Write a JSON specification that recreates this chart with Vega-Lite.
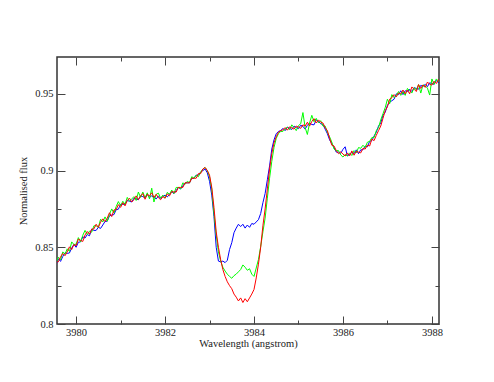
{
"$schema":"https://vega.github.io/schema/vega-lite/v6.json",
"width":382,"height":267,
"autosize":{"type":"none"},
"padding":{"left":57,"top":57,"right":55,"bottom":58},
"background":"white",
"config":{"font":"Liberation Serif","view":{"stroke":"#333333","strokeWidth":1.5},"axis":{"labelFont":"Liberation Serif","titleFont":"Liberation Serif","labelFontSize":10.5,"titleFontSize":10.5,"titleFontWeight":"normal","labelColor":"#222222","titleColor":"#222222","tickColor":"#444444","tickWidth":1,"domain":false,"grid":false}},
"datasets":{"spec":[
{"x":3979.55,"y":0.8385,"s":"b"},{"x":3979.6,"y":0.8425,"s":"b"},{"x":3979.65,"y":0.8408,"s":"b"},{"x":3979.7,"y":0.844,"s":"b"},{"x":3979.75,"y":0.8465,"s":"b"},{"x":3979.8,"y":0.846,"s":"b"},{"x":3979.85,"y":0.8463,"s":"b"},{"x":3979.9,"y":0.8495,"s":"b"},{"x":3979.95,"y":0.8518,"s":"b"},{"x":3980,"y":0.85,"s":"b"},
{"x":3980.05,"y":0.8533,"s":"b"},{"x":3980.1,"y":0.8535,"s":"b"},{"x":3980.15,"y":0.8568,"s":"b"},{"x":3980.2,"y":0.856,"s":"b"},{"x":3980.25,"y":0.8583,"s":"b"},{"x":3980.3,"y":0.8575,"s":"b"},{"x":3980.35,"y":0.8618,"s":"b"},{"x":3980.4,"y":0.861,"s":"b"},{"x":3980.45,"y":0.861,"s":"b"},{"x":3980.5,"y":0.863,"s":"b"},
{"x":3980.55,"y":0.8623,"s":"b"},{"x":3980.6,"y":0.8645,"s":"b"},{"x":3980.65,"y":0.8668,"s":"b"},{"x":3980.7,"y":0.867,"s":"b"},{"x":3980.75,"y":0.8705,"s":"b"},{"x":3980.8,"y":0.871,"s":"b"},{"x":3980.85,"y":0.8713,"s":"b"},{"x":3980.9,"y":0.8745,"s":"b"},{"x":3980.95,"y":0.8748,"s":"b"},{"x":3981,"y":0.878,"s":"b"},
{"x":3981.05,"y":0.878,"s":"b"},{"x":3981.1,"y":0.878,"s":"b"},{"x":3981.15,"y":0.8805,"s":"b"},{"x":3981.2,"y":0.88,"s":"b"},{"x":3981.25,"y":0.8795,"s":"b"},{"x":3981.3,"y":0.882,"s":"b"},{"x":3981.35,"y":0.8815,"s":"b"},{"x":3981.4,"y":0.881,"s":"b"},{"x":3981.45,"y":0.8835,"s":"b"},{"x":3981.5,"y":0.883,"s":"b"},
{"x":3981.55,"y":0.8823,"s":"b"},{"x":3981.6,"y":0.8845,"s":"b"},{"x":3981.65,"y":0.8825,"s":"b"},{"x":3981.7,"y":0.8835,"s":"b"},{"x":3981.75,"y":0.8825,"s":"b"},{"x":3981.8,"y":0.8815,"s":"b"},{"x":3981.85,"y":0.8833,"s":"b"},{"x":3981.9,"y":0.882,"s":"b"},{"x":3981.95,"y":0.883,"s":"b"},{"x":3982,"y":0.884,"s":"b"},
{"x":3982.05,"y":0.8828,"s":"b"},{"x":3982.1,"y":0.8845,"s":"b"},{"x":3982.15,"y":0.8863,"s":"b"},{"x":3982.2,"y":0.885,"s":"b"},{"x":3982.25,"y":0.887,"s":"b"},{"x":3982.3,"y":0.889,"s":"b"},{"x":3982.35,"y":0.888,"s":"b"},{"x":3982.4,"y":0.89,"s":"b"},{"x":3982.45,"y":0.892,"s":"b"},{"x":3982.5,"y":0.892,"s":"b"},
{"x":3982.55,"y":0.892,"s":"b"},{"x":3982.6,"y":0.895,"s":"b"},{"x":3982.65,"y":0.895,"s":"b"},{"x":3982.7,"y":0.897,"s":"b"},{"x":3982.75,"y":0.897,"s":"b"},{"x":3982.8,"y":0.899,"s":"b"},{"x":3982.85,"y":0.9,"s":"b"},{"x":3982.9,"y":0.901,"s":"b"},{"x":3982.95,"y":0.8985,"s":"b"},
{"x":3983,"y":0.893,"s":"b"},{"x":3983.05,"y":0.884,"s":"b"},{"x":3983.1,"y":0.87,"s":"b"},{"x":3983.15,"y":0.85,"s":"b"},{"x":3983.2,"y":0.841,"s":"b"},{"x":3983.25,"y":0.8405,"s":"b"},{"x":3983.3,"y":0.841,"s":"b"},{"x":3983.35,"y":0.84,"s":"b"},{"x":3983.4,"y":0.8415,"s":"b"},{"x":3983.45,"y":0.8485,"s":"b"},
{"x":3983.5,"y":0.853,"s":"b"},{"x":3983.55,"y":0.8595,"s":"b"},{"x":3983.6,"y":0.8625,"s":"b"},{"x":3983.65,"y":0.865,"s":"b"},{"x":3983.7,"y":0.8635,"s":"b"},{"x":3983.75,"y":0.865,"s":"b"},{"x":3983.8,"y":0.8625,"s":"b"},{"x":3983.85,"y":0.8645,"s":"b"},{"x":3983.9,"y":0.863,"s":"b"},{"x":3983.95,"y":0.8655,"s":"b"},
{"x":3984,"y":0.865,"s":"b"},{"x":3984.05,"y":0.8665,"s":"b"},{"x":3984.1,"y":0.868,"s":"b"},{"x":3984.15,"y":0.872,"s":"b"},{"x":3984.2,"y":0.879,"s":"b"},{"x":3984.25,"y":0.885,"s":"b"},{"x":3984.3,"y":0.894,"s":"b"},{"x":3984.35,"y":0.903,"s":"b"},{"x":3984.4,"y":0.914,"s":"b"},{"x":3984.45,"y":0.92,"s":"b"},
{"x":3984.5,"y":0.924,"s":"b"},{"x":3984.55,"y":0.9255,"s":"b"},{"x":3984.6,"y":0.926,"s":"b"},
{"x":3984.65,"y":0.9275,"s":"b"},{"x":3984.7,"y":0.926,"s":"b"},{"x":3984.75,"y":0.9283,"s":"b"},{"x":3984.8,"y":0.9275,"s":"b"},{"x":3984.85,"y":0.9268,"s":"b"},{"x":3984.9,"y":0.929,"s":"b"},{"x":3984.95,"y":0.928,"s":"b"},{"x":3985,"y":0.9273,"s":"b"},{"x":3985.05,"y":0.9295,"s":"b"},{"x":3985.1,"y":0.9288,"s":"b"},
{"x":3985.15,"y":0.927,"s":"b"},{"x":3985.2,"y":0.9295,"s":"b"},{"x":3985.25,"y":0.931,"s":"b"},{"x":3985.3,"y":0.93,"s":"b"},{"x":3985.35,"y":0.9298,"s":"b"},{"x":3985.4,"y":0.933,"s":"b"},{"x":3985.45,"y":0.932,"s":"b"},{"x":3985.5,"y":0.9305,"s":"b"},{"x":3985.55,"y":0.93,"s":"b"},{"x":3985.6,"y":0.927,"s":"b"},
{"x":3985.65,"y":0.924,"s":"b"},{"x":3985.7,"y":0.92,"s":"b"},{"x":3985.75,"y":0.9175,"s":"b"},{"x":3985.8,"y":0.915,"s":"b"},{"x":3985.85,"y":0.912,"s":"b"},{"x":3985.9,"y":0.912,"s":"b"},{"x":3985.95,"y":0.9112,"s":"b"},{"x":3986,"y":0.9138,"s":"b"},{"x":3986.05,"y":0.9155,"s":"b"},{"x":3986.1,"y":0.9095,"s":"b"},
{"x":3986.15,"y":0.9105,"s":"b"},{"x":3986.2,"y":0.9118,"s":"b"},{"x":3986.25,"y":0.911,"s":"b"},{"x":3986.3,"y":0.9135,"s":"b"},{"x":3986.35,"y":0.911,"s":"b"},{"x":3986.4,"y":0.9135,"s":"b"},{"x":3986.45,"y":0.9135,"s":"b"},{"x":3986.5,"y":0.916,"s":"b"},{"x":3986.55,"y":0.9155,"s":"b"},{"x":3986.6,"y":0.919,"s":"b"},
{"x":3986.65,"y":0.9195,"s":"b"},{"x":3986.7,"y":0.9225,"s":"b"},{"x":3986.75,"y":0.925,"s":"b"},{"x":3986.8,"y":0.929,"s":"b"},{"x":3986.85,"y":0.931,"s":"b"},{"x":3986.9,"y":0.936,"s":"b"},{"x":3986.95,"y":0.938,"s":"b"},{"x":3987,"y":0.9425,"s":"b"},{"x":3987.05,"y":0.9445,"s":"b"},{"x":3987.1,"y":0.9455,"s":"b"},
{"x":3987.15,"y":0.9465,"s":"b"},{"x":3987.2,"y":0.95,"s":"b"},{"x":3987.25,"y":0.9495,"s":"b"},{"x":3987.3,"y":0.952,"s":"b"},{"x":3987.35,"y":0.9495,"s":"b"},{"x":3987.4,"y":0.952,"s":"b"},{"x":3987.45,"y":0.9515,"s":"b"},{"x":3987.5,"y":0.953,"s":"b"},{"x":3987.55,"y":0.9515,"s":"b"},{"x":3987.6,"y":0.954,"s":"b"},
{"x":3987.65,"y":0.9535,"s":"b"},{"x":3987.7,"y":0.953,"s":"b"},{"x":3987.75,"y":0.9555,"s":"b"},{"x":3987.8,"y":0.9548,"s":"b"},{"x":3987.85,"y":0.9562,"s":"b"},{"x":3987.9,"y":0.9547,"s":"b"},{"x":3987.95,"y":0.9572,"s":"b"},{"x":3988,"y":0.9567,"s":"b"},{"x":3988.05,"y":0.9562,"s":"b"},{"x":3988.1,"y":0.9587,"s":"b"},
{"x":3988.15,"y":0.9572,"s":"b"},{"x":3988.2,"y":0.9587,"s":"b"},
{"x":3979.55,"y":0.8395,"s":"g"},{"x":3979.6,"y":0.8435,"s":"g"},{"x":3979.65,"y":0.8418,"s":"g"},{"x":3979.7,"y":0.847,"s":"g"},{"x":3979.75,"y":0.8455,"s":"g"},{"x":3979.8,"y":0.849,"s":"g"},{"x":3979.85,"y":0.8473,"s":"g"},{"x":3979.9,"y":0.8535,"s":"g"},{"x":3979.95,"y":0.8518,"s":"g"},{"x":3980,"y":0.852,"s":"g"},
{"x":3980.05,"y":0.8563,"s":"g"},{"x":3980.1,"y":0.8535,"s":"g"},{"x":3980.15,"y":0.8578,"s":"g"},{"x":3980.2,"y":0.861,"s":"g"},{"x":3980.25,"y":0.8583,"s":"g"},{"x":3980.3,"y":0.8605,"s":"g"},{"x":3980.35,"y":0.8598,"s":"g"},{"x":3980.4,"y":0.864,"s":"g"},{"x":3980.45,"y":0.864,"s":"g"},{"x":3980.5,"y":0.863,"s":"g"},
{"x":3980.55,"y":0.8683,"s":"g"},{"x":3980.6,"y":0.8665,"s":"g"},{"x":3980.65,"y":0.8698,"s":"g"},{"x":3980.7,"y":0.867,"s":"g"},{"x":3980.75,"y":0.8715,"s":"g"},{"x":3980.8,"y":0.875,"s":"g"},{"x":3980.85,"y":0.8723,"s":"g"},{"x":3980.9,"y":0.8765,"s":"g"},{"x":3980.95,"y":0.8798,"s":"g"},{"x":3981,"y":0.877,"s":"g"},
{"x":3981.05,"y":0.88,"s":"g"},{"x":3981.1,"y":0.878,"s":"g"},{"x":3981.15,"y":0.8825,"s":"g"},{"x":3981.2,"y":0.88,"s":"g"},{"x":3981.25,"y":0.8815,"s":"g"},{"x":3981.3,"y":0.883,"s":"g"},{"x":3981.35,"y":0.8805,"s":"g"},{"x":3981.4,"y":0.886,"s":"g"},{"x":3981.45,"y":0.8825,"s":"g"},{"x":3981.5,"y":0.886,"s":"g"},
{"x":3981.55,"y":0.8823,"s":"g"},{"x":3981.6,"y":0.8855,"s":"g"},{"x":3981.65,"y":0.8815,"s":"g"},{"x":3981.7,"y":0.8885,"s":"g"},{"x":3981.75,"y":0.8795,"s":"g"},{"x":3981.8,"y":0.8845,"s":"g"},{"x":3981.85,"y":0.8853,"s":"g"},{"x":3981.9,"y":0.882,"s":"g"},{"x":3981.95,"y":0.884,"s":"g"},{"x":3982,"y":0.882,"s":"g"},
{"x":3982.05,"y":0.8858,"s":"g"},{"x":3982.1,"y":0.8845,"s":"g"},{"x":3982.15,"y":0.8873,"s":"g"},{"x":3982.2,"y":0.885,"s":"g"},{"x":3982.25,"y":0.889,"s":"g"},{"x":3982.3,"y":0.889,"s":"g"},{"x":3982.35,"y":0.888,"s":"g"},{"x":3982.4,"y":0.892,"s":"g"},{"x":3982.45,"y":0.891,"s":"g"},{"x":3982.5,"y":0.893,"s":"g"},
{"x":3982.55,"y":0.892,"s":"g"},{"x":3982.6,"y":0.896,"s":"g"},{"x":3982.65,"y":0.895,"s":"g"},{"x":3982.7,"y":0.897,"s":"g"},{"x":3982.75,"y":0.896,"s":"g"},{"x":3982.8,"y":0.899,"s":"g"},{"x":3982.85,"y":0.901,"s":"g"},{"x":3982.9,"y":0.902,"s":"g"},{"x":3982.95,"y":0.9,"s":"g"},
{"x":3983,"y":0.896,"s":"g"},{"x":3983.05,"y":0.888,"s":"g"},{"x":3983.1,"y":0.872,"s":"g"},{"x":3983.15,"y":0.858,"s":"g"},{"x":3983.2,"y":0.847,"s":"g"},{"x":3983.25,"y":0.841,"s":"g"},{"x":3983.3,"y":0.837,"s":"g"},{"x":3983.35,"y":0.8345,"s":"g"},{"x":3983.4,"y":0.8325,"s":"g"},{"x":3983.45,"y":0.831,"s":"g"},
{"x":3983.5,"y":0.8298,"s":"g"},{"x":3983.55,"y":0.8315,"s":"g"},{"x":3983.6,"y":0.8325,"s":"g"},{"x":3983.65,"y":0.834,"s":"g"},{"x":3983.7,"y":0.8355,"s":"g"},{"x":3983.75,"y":0.8385,"s":"g"},{"x":3983.8,"y":0.837,"s":"g"},{"x":3983.85,"y":0.835,"s":"g"},{"x":3983.9,"y":0.836,"s":"g"},{"x":3983.95,"y":0.8325,"s":"g"},
{"x":3984,"y":0.831,"s":"g"},{"x":3984.05,"y":0.8365,"s":"g"},{"x":3984.1,"y":0.842,"s":"g"},{"x":3984.15,"y":0.8505,"s":"g"},{"x":3984.2,"y":0.86,"s":"g"},{"x":3984.25,"y":0.869,"s":"g"},{"x":3984.3,"y":0.882,"s":"g"},{"x":3984.35,"y":0.895,"s":"g"},{"x":3984.4,"y":0.906,"s":"g"},{"x":3984.45,"y":0.915,"s":"g"},
{"x":3984.5,"y":0.921,"s":"g"},{"x":3984.55,"y":0.924,"s":"g"},{"x":3984.6,"y":0.9255,"s":"g"},
{"x":3984.65,"y":0.9255,"s":"g"},{"x":3984.7,"y":0.927,"s":"g"},{"x":3984.75,"y":0.9283,"s":"g"},{"x":3984.8,"y":0.9265,"s":"g"},{"x":3984.85,"y":0.9298,"s":"g"},{"x":3984.9,"y":0.928,"s":"g"},{"x":3984.95,"y":0.926,"s":"g"},{"x":3985,"y":0.9293,"s":"g"},{"x":3985.05,"y":0.9305,"s":"g"},{"x":3985.1,"y":0.9378,"s":"g"},
{"x":3985.15,"y":0.928,"s":"g"},{"x":3985.2,"y":0.9235,"s":"g"},{"x":3985.25,"y":0.931,"s":"g"},{"x":3985.3,"y":0.936,"s":"g"},{"x":3985.35,"y":0.9318,"s":"g"},{"x":3985.4,"y":0.934,"s":"g"},{"x":3985.45,"y":0.931,"s":"g"},{"x":3985.5,"y":0.9325,"s":"g"},{"x":3985.55,"y":0.929,"s":"g"},{"x":3985.6,"y":0.929,"s":"g"},
{"x":3985.65,"y":0.925,"s":"g"},{"x":3985.7,"y":0.922,"s":"g"},{"x":3985.75,"y":0.9185,"s":"g"},{"x":3985.8,"y":0.914,"s":"g"},{"x":3985.85,"y":0.913,"s":"g"},{"x":3985.9,"y":0.913,"s":"g"},{"x":3985.95,"y":0.9102,"s":"g"},{"x":3986,"y":0.9088,"s":"g"},{"x":3986.05,"y":0.9105,"s":"g"},{"x":3986.1,"y":0.9095,"s":"g"},
{"x":3986.15,"y":0.9115,"s":"g"},{"x":3986.2,"y":0.9098,"s":"g"},{"x":3986.25,"y":0.913,"s":"g"},{"x":3986.3,"y":0.9115,"s":"g"},{"x":3986.35,"y":0.915,"s":"g"},{"x":3986.4,"y":0.9145,"s":"g"},{"x":3986.45,"y":0.9165,"s":"g"},{"x":3986.5,"y":0.915,"s":"g"},{"x":3986.55,"y":0.9185,"s":"g"},{"x":3986.6,"y":0.919,"s":"g"},
{"x":3986.65,"y":0.9215,"s":"g"},{"x":3986.7,"y":0.9215,"s":"g"},{"x":3986.75,"y":0.926,"s":"g"},{"x":3986.8,"y":0.928,"s":"g"},{"x":3986.85,"y":0.933,"s":"g"},{"x":3986.9,"y":0.937,"s":"g"},{"x":3986.95,"y":0.941,"s":"g"},{"x":3987,"y":0.9465,"s":"g"},{"x":3987.05,"y":0.9435,"s":"g"},{"x":3987.1,"y":0.9495,"s":"g"},
{"x":3987.15,"y":0.9475,"s":"g"},{"x":3987.2,"y":0.949,"s":"g"},{"x":3987.25,"y":0.9515,"s":"g"},{"x":3987.3,"y":0.949,"s":"g"},{"x":3987.35,"y":0.9515,"s":"g"},{"x":3987.4,"y":0.949,"s":"g"},{"x":3987.45,"y":0.9535,"s":"g"},{"x":3987.5,"y":0.952,"s":"g"},{"x":3987.55,"y":0.9505,"s":"g"},{"x":3987.6,"y":0.954,"s":"g"},
{"x":3987.65,"y":0.9525,"s":"g"},{"x":3987.7,"y":0.956,"s":"g"},{"x":3987.75,"y":0.9505,"s":"g"},{"x":3987.8,"y":0.9558,"s":"g"},{"x":3987.85,"y":0.9552,"s":"g"},{"x":3987.9,"y":0.9537,"s":"g"},{"x":3987.95,"y":0.9492,"s":"g"},{"x":3988,"y":0.9597,"s":"g"},{"x":3988.05,"y":0.9562,"s":"g"},{"x":3988.1,"y":0.9597,"s":"g"},
{"x":3988.15,"y":0.9582,"s":"g"},{"x":3988.2,"y":0.9577,"s":"g"},
{"x":3979.55,"y":0.8405,"s":"r"},{"x":3979.6,"y":0.8405,"s":"r"},{"x":3979.65,"y":0.8438,"s":"r"},{"x":3979.7,"y":0.846,"s":"r"},{"x":3979.75,"y":0.8445,"s":"r"},{"x":3979.8,"y":0.847,"s":"r"},{"x":3979.85,"y":0.8503,"s":"r"},{"x":3979.9,"y":0.8485,"s":"r"},{"x":3979.95,"y":0.8518,"s":"r"},{"x":3980,"y":0.851,"s":"r"},
{"x":3980.05,"y":0.8553,"s":"r"},{"x":3980.1,"y":0.8545,"s":"r"},{"x":3980.15,"y":0.8538,"s":"r"},{"x":3980.2,"y":0.858,"s":"r"},{"x":3980.25,"y":0.8603,"s":"r"},{"x":3980.3,"y":0.8585,"s":"r"},{"x":3980.35,"y":0.8618,"s":"r"},{"x":3980.4,"y":0.862,"s":"r"},{"x":3980.45,"y":0.865,"s":"r"},{"x":3980.5,"y":0.863,"s":"r"},
{"x":3980.55,"y":0.8663,"s":"r"},{"x":3980.6,"y":0.8685,"s":"r"},{"x":3980.65,"y":0.8668,"s":"r"},{"x":3980.7,"y":0.869,"s":"r"},{"x":3980.75,"y":0.8725,"s":"r"},{"x":3980.8,"y":0.87,"s":"r"},{"x":3980.85,"y":0.8743,"s":"r"},{"x":3980.9,"y":0.8745,"s":"r"},{"x":3980.95,"y":0.8778,"s":"r"},{"x":3981,"y":0.876,"s":"r"},
{"x":3981.05,"y":0.879,"s":"r"},{"x":3981.1,"y":0.877,"s":"r"},{"x":3981.15,"y":0.8805,"s":"r"},{"x":3981.2,"y":0.882,"s":"r"},{"x":3981.25,"y":0.8795,"s":"r"},{"x":3981.3,"y":0.881,"s":"r"},{"x":3981.35,"y":0.8835,"s":"r"},{"x":3981.4,"y":0.881,"s":"r"},{"x":3981.45,"y":0.8835,"s":"r"},{"x":3981.5,"y":0.885,"s":"r"},
{"x":3981.55,"y":0.8813,"s":"r"},{"x":3981.6,"y":0.8845,"s":"r"},{"x":3981.65,"y":0.8835,"s":"r"},{"x":3981.7,"y":0.8855,"s":"r"},{"x":3981.75,"y":0.8825,"s":"r"},{"x":3981.8,"y":0.8845,"s":"r"},{"x":3981.85,"y":0.8823,"s":"r"},{"x":3981.9,"y":0.881,"s":"r"},{"x":3981.95,"y":0.883,"s":"r"},{"x":3982,"y":0.882,"s":"r"},
{"x":3982.05,"y":0.8848,"s":"r"},{"x":3982.1,"y":0.8835,"s":"r"},{"x":3982.15,"y":0.8863,"s":"r"},{"x":3982.2,"y":0.886,"s":"r"},{"x":3982.25,"y":0.886,"s":"r"},{"x":3982.3,"y":0.889,"s":"r"},{"x":3982.35,"y":0.889,"s":"r"},{"x":3982.4,"y":0.889,"s":"r"},{"x":3982.45,"y":0.892,"s":"r"},{"x":3982.5,"y":0.892,"s":"r"},
{"x":3982.55,"y":0.892,"s":"r"},{"x":3982.6,"y":0.895,"s":"r"},{"x":3982.65,"y":0.895,"s":"r"},{"x":3982.7,"y":0.895,"s":"r"},{"x":3982.75,"y":0.898,"s":"r"},{"x":3982.8,"y":0.898,"s":"r"},{"x":3982.85,"y":0.901,"s":"r"},{"x":3982.9,"y":0.902,"s":"r"},{"x":3982.95,"y":0.9,"s":"r"},
{"x":3983,"y":0.897,"s":"r"},{"x":3983.05,"y":0.889,"s":"r"},{"x":3983.1,"y":0.876,"s":"r"},{"x":3983.15,"y":0.86,"s":"r"},{"x":3983.2,"y":0.85,"s":"r"},{"x":3983.25,"y":0.842,"s":"r"},{"x":3983.3,"y":0.8355,"s":"r"},{"x":3983.35,"y":0.831,"s":"r"},{"x":3983.4,"y":0.8275,"s":"r"},{"x":3983.45,"y":0.825,"s":"r"},
{"x":3983.5,"y":0.823,"s":"r"},{"x":3983.55,"y":0.8195,"s":"r"},{"x":3983.6,"y":0.8175,"s":"r"},{"x":3983.65,"y":0.815,"s":"r"},{"x":3983.7,"y":0.817,"s":"r"},{"x":3983.75,"y":0.814,"s":"r"},{"x":3983.8,"y":0.8165,"s":"r"},{"x":3983.85,"y":0.8145,"s":"r"},{"x":3983.9,"y":0.817,"s":"r"},{"x":3983.95,"y":0.8195,"s":"r"},
{"x":3984,"y":0.8225,"s":"r"},{"x":3984.05,"y":0.83,"s":"r"},{"x":3984.1,"y":0.839,"s":"r"},{"x":3984.15,"y":0.85,"s":"r"},{"x":3984.2,"y":0.864,"s":"r"},{"x":3984.25,"y":0.875,"s":"r"},{"x":3984.3,"y":0.888,"s":"r"},{"x":3984.35,"y":0.901,"s":"r"},{"x":3984.4,"y":0.911,"s":"r"},{"x":3984.45,"y":0.918,"s":"r"},
{"x":3984.5,"y":0.922,"s":"r"},{"x":3984.55,"y":0.925,"s":"r"},{"x":3984.6,"y":0.926,"s":"r"},
{"x":3984.65,"y":0.9265,"s":"r"},{"x":3984.7,"y":0.928,"s":"r"},{"x":3984.75,"y":0.9263,"s":"r"},{"x":3984.8,"y":0.9285,"s":"r"},{"x":3984.85,"y":0.9278,"s":"r"},{"x":3984.9,"y":0.927,"s":"r"},{"x":3984.95,"y":0.929,"s":"r"},{"x":3985,"y":0.9283,"s":"r"},{"x":3985.05,"y":0.9275,"s":"r"},{"x":3985.1,"y":0.9298,"s":"r"},
{"x":3985.15,"y":0.929,"s":"r"},{"x":3985.2,"y":0.9315,"s":"r"},{"x":3985.25,"y":0.929,"s":"r"},{"x":3985.3,"y":0.932,"s":"r"},{"x":3985.35,"y":0.9338,"s":"r"},{"x":3985.4,"y":0.931,"s":"r"},{"x":3985.45,"y":0.933,"s":"r"},{"x":3985.5,"y":0.9315,"s":"r"},{"x":3985.55,"y":0.931,"s":"r"},{"x":3985.6,"y":0.928,"s":"r"},
{"x":3985.65,"y":0.926,"s":"r"},{"x":3985.7,"y":0.921,"s":"r"},{"x":3985.75,"y":0.9165,"s":"r"},{"x":3985.8,"y":0.916,"s":"r"},{"x":3985.85,"y":0.913,"s":"r"},{"x":3985.9,"y":0.911,"s":"r"},{"x":3985.95,"y":0.9122,"s":"r"},{"x":3986,"y":0.9108,"s":"r"},{"x":3986.05,"y":0.9095,"s":"r"},{"x":3986.1,"y":0.9115,"s":"r"},
{"x":3986.15,"y":0.9095,"s":"r"},{"x":3986.2,"y":0.9128,"s":"r"},{"x":3986.25,"y":0.91,"s":"r"},{"x":3986.3,"y":0.9125,"s":"r"},{"x":3986.35,"y":0.912,"s":"r"},{"x":3986.4,"y":0.9115,"s":"r"},{"x":3986.45,"y":0.9145,"s":"r"},{"x":3986.5,"y":0.914,"s":"r"},{"x":3986.55,"y":0.9165,"s":"r"},{"x":3986.6,"y":0.916,"s":"r"},
{"x":3986.65,"y":0.9205,"s":"r"},{"x":3986.7,"y":0.9195,"s":"r"},{"x":3986.75,"y":0.923,"s":"r"},{"x":3986.8,"y":0.926,"s":"r"},{"x":3986.85,"y":0.929,"s":"r"},{"x":3986.9,"y":0.934,"s":"r"},{"x":3986.95,"y":0.939,"s":"r"},{"x":3987,"y":0.9415,"s":"r"},{"x":3987.05,"y":0.9465,"s":"r"},{"x":3987.1,"y":0.9475,"s":"r"},
{"x":3987.15,"y":0.9495,"s":"r"},{"x":3987.2,"y":0.948,"s":"r"},{"x":3987.25,"y":0.9505,"s":"r"},{"x":3987.3,"y":0.95,"s":"r"},{"x":3987.35,"y":0.9525,"s":"r"},{"x":3987.4,"y":0.95,"s":"r"},{"x":3987.45,"y":0.9525,"s":"r"},{"x":3987.5,"y":0.95,"s":"r"},{"x":3987.55,"y":0.9545,"s":"r"},{"x":3987.6,"y":0.953,"s":"r"},
{"x":3987.65,"y":0.9515,"s":"r"},{"x":3987.7,"y":0.956,"s":"r"},{"x":3987.75,"y":0.9535,"s":"r"},{"x":3987.8,"y":0.9558,"s":"r"},{"x":3987.85,"y":0.9542,"s":"r"},{"x":3987.9,"y":0.9577,"s":"r"},{"x":3987.95,"y":0.9562,"s":"r"},{"x":3988,"y":0.9557,"s":"r"},{"x":3988.05,"y":0.9582,"s":"r"},{"x":3988.1,"y":0.9567,"s":"r"},
{"x":3988.15,"y":0.9592,"s":"r"},{"x":3988.2,"y":0.9587,"s":"r"}
]},
"data":{"name":"spec"},
"layer":[
{"mark":{"type":"line","strokeWidth":1,"clip":true},
 "encoding":{
  "x":{"field":"x","type":"quantitative","scale":{"domain":[3979.57,3988.16],"nice":false,"zero":false},"axis":{"orient":"bottom","values":[3980,3982,3984,3986,3988],"format":"d","tickSize":-8,"labelPadding":11,"labelFont":"Liberation Serif","titleFont":"Liberation Serif","title":"Wavelength (angstrom)","titlePadding":1}},
  "y":{"field":"y","type":"quantitative","scale":{"domain":[0.8,0.974],"nice":false,"zero":false},"axis":{"orient":"left","values":[0.8,0.85,0.9,0.95],"format":"~g","tickSize":-8,"labelPadding":12,"labelFont":"Liberation Serif","titleFont":"Liberation Serif","title":"Normalised flux","titlePadding":6}},
  "color":{"field":"s","type":"nominal","scale":{"domain":["b","g","r"],"range":["#0000ff","#00ff00","#ff0000"]},"legend":null}
 }},
{"mark":{"type":"point","opacity":0},
 "encoding":{
  "x":{"field":"x","type":"quantitative","axis":{"orient":"top","values":[3980,3982,3984,3986,3988],"labels":false,"tickSize":-8,"title":null}},
  "y":{"field":"y","type":"quantitative","axis":{"orient":"right","values":[0.8,0.85,0.9,0.95],"labels":false,"tickSize":-8,"title":null}}
 }},
{"mark":{"type":"point","opacity":0},
 "encoding":{
  "x":{"field":"x","type":"quantitative","axis":{"orient":"bottom","values":[3981,3983,3985,3987],"labels":false,"tickSize":-4,"title":null}},
  "y":{"field":"y","type":"quantitative","axis":{"orient":"left","values":[0.825,0.875,0.925],"labels":false,"tickSize":-4,"title":null}}
 }},
{"mark":{"type":"point","opacity":0},
 "encoding":{
  "x":{"field":"x","type":"quantitative","axis":{"orient":"top","values":[3981,3983,3985,3987],"labels":false,"tickSize":-4,"title":null}},
  "y":{"field":"y","type":"quantitative","axis":{"orient":"right","values":[0.825,0.875,0.925],"labels":false,"tickSize":-4,"title":null}}
 }}
],
"resolve":{"axis":{"x":"independent","y":"independent"}}
}
